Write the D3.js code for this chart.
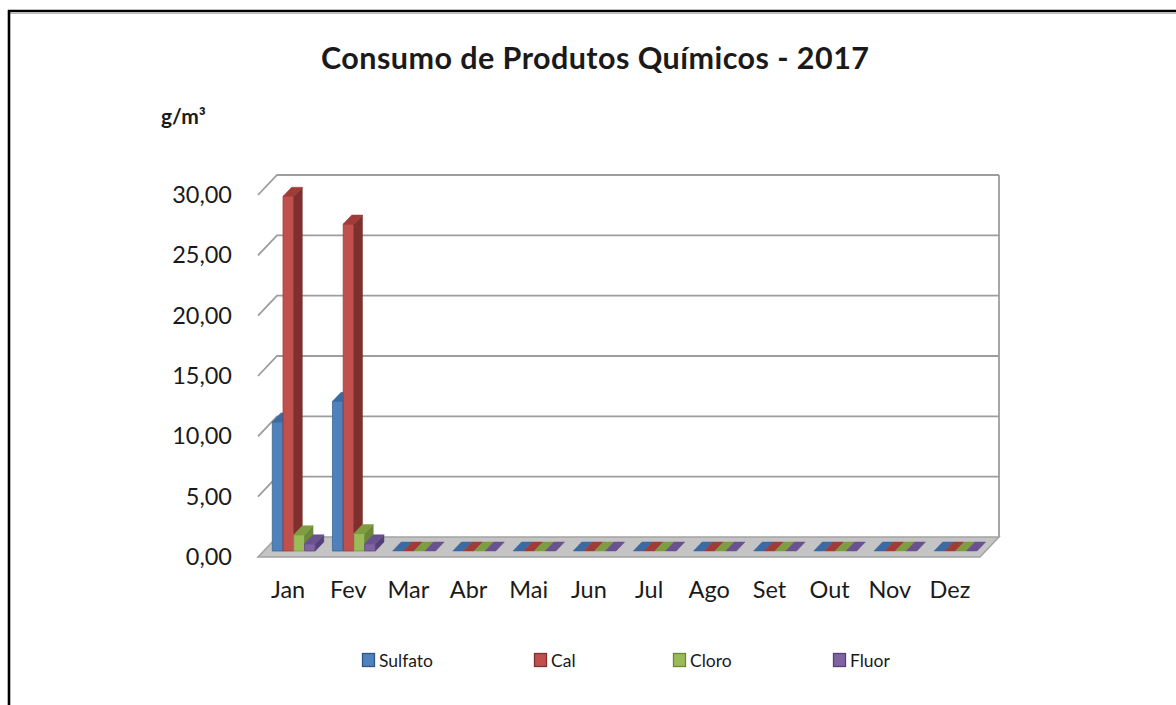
<!DOCTYPE html>
<html>
<head>
<meta charset="utf-8">
<script src="https://cdn.jsdelivr.net/npm/d3@7"></script>
<style>
  body { margin: 0; background: #fff; }
  svg text { font-family: Lato, "Open Sans", sans-serif; fill: #1a1a1a; }
</style>
</head>
<body>
<svg id="chart" width="1176" height="705"></svg>
<script>
// data
const months = ["Jan", "Fev", "Mar", "Abr", "Mai", "Jun", "Jul", "Ago", "Set", "Out", "Nov", "Dez"];
const seriesNames = ["Sulfato", "Cal", "Cloro", "Fluor"];
const sulfato = [10.7, 12.4, 0, 0, 0, 0, 0, 0, 0, 0, 0, 0];
const cal = [29.4, 27.1, 0, 0, 0, 0, 0, 0, 0, 0, 0, 0];
const cloro = [1.35, 1.45, 0, 0, 0, 0, 0, 0, 0, 0, 0, 0];
const fluor = [0.6, 0.6, 0, 0, 0, 0, 0, 0, 0, 0, 0, 0];
const yTicks = [0, 5, 10, 15, 20, 25, 30];

const values = [sulfato, cal, cloro, fluor];

// colours: front, side, top
const front = ["#4f81bd", "#c0504d", "#9bbb59", "#8064a2"];
const side = ["#2f5686", "#7d302e", "#6b8838", "#56407a"];
const topc = ["#3c6aa4", "#a03b38", "#7e9d40", "#6a5190"];
const edge = ["#3b6696", "#9c3b38", "#7e9a46", "#654d85"];

const svg = d3.select("#chart");

// outer frame
svg.append("line").attr("x1", 8).attr("y1", 11).attr("x2", 1176).attr("y2", 11)
  .attr("stroke", "#000").attr("stroke-width", 2.6);
svg.append("line").attr("x1", 8).attr("y1", 13.5).attr("x2", 1176).attr("y2", 13.5)
  .attr("stroke", "#bbb").attr("stroke-width", 1);
svg.append("line").attr("x1", 9).attr("y1", 10).attr("x2", 9).attr("y2", 705)
  .attr("stroke", "#000").attr("stroke-width", 2.6);

// 3d depth offset of the walls
const DX = 19, DY = 20;
const P = (x, y, z) => [x + z * DX, y - z * DY];
const pts = a => a.map(p => p.join(",")).join(" ");

const x = d3.scaleBand().domain(months).range([258, 980]).padding(0);
const xs = d3.scaleBand().domain(seriesNames).range([0, x.bandwidth()]).paddingInner(0).paddingOuter(0.8);
const y = d3.scaleLinear().domain([0, 30]).range([557, 195]);

const x0 = x.range()[0], x1 = x.range()[1];

// back wall gridlines and left wall ticks
const walls = svg.append("g");
yTicks.filter(v => v > 0).forEach(v => {
  const a = P(x0, y(v), 0), b = P(x0, y(v), 1), c = P(x1, y(v), 1);
  walls.append("polyline").attr("points", pts([a, b, c]))
    .attr("fill", "none").attr("stroke", "#9d9d9d").attr("stroke-width", 1.8);
});
walls.append("line")
  .attr("x1", P(x1, 0, 1)[0]).attr("x2", P(x1, 0, 1)[0])
  .attr("y1", P(x1, y(30), 1)[1]).attr("y2", P(x1, y(0), 1)[1])
  .attr("stroke", "#9d9d9d").attr("stroke-width", 1.8);

// floor
svg.append("polygon")
  .attr("points", pts([P(x0, y(0), 0), P(x1, y(0), 0), P(x1, y(0), 1), P(x0, y(0), 1)]))
  .attr("fill", "#c4c4c4").attr("stroke", "#a3a3a3").attr("stroke-width", 1.5);

// bars
const z0 = 0.3, z1 = 0.75;
const bars = svg.append("g");
months.forEach((m, i) => {
  seriesNames.forEach((s, j) => {
    const v = values[j][i];
    const bx = x(m) + xs(s), w = xs.bandwidth();
    const yt = y(v), yb = y(0);
    const g = bars.append("g");
    if (v > 0) {
      g.append("polygon")
        .attr("points", pts([P(bx, yt, z0), P(bx + w, yt, z0), P(bx + w, yb, z0), P(bx, yb, z0)]))
        .attr("fill", front[j]).attr("stroke", edge[j]).attr("stroke-width", 0.8);
      g.append("polygon")
        .attr("points", pts([P(bx + w, yt, z0), P(bx + w, yt, z1), P(bx + w, yb, z1), P(bx + w, yb, z0)]))
        .attr("fill", side[j]).attr("stroke", side[j]).attr("stroke-width", 0.5);
    }
    g.append("polygon")
      .attr("points", pts([P(bx, yt, z0), P(bx + w, yt, z0), P(bx + w, yt, z1), P(bx, yt, z1)]))
      .attr("fill", topc[j]).attr("stroke", topc[j]).attr("stroke-width", 0.5);
  });
});

// y axis labels
const fmt = d3.formatLocale({ decimal: ",", thousands: ".", grouping: [3], currency: ["R$", ""] }).format(".2f");
const yAxis = svg.append("g").attr("transform", "translate(232,0)")
  .call(d3.axisLeft(y).tickValues(yTicks).tickFormat(fmt).tickSize(0).tickPadding(0));
yAxis.select(".domain").remove();
yAxis.selectAll("text").attr("font-size", 23.5).attr("font-family", "Lato, sans-serif").attr("fill", "#1a1a1a");

// month labels
const xAxis = svg.append("g").attr("transform", "translate(0,581)")
  .call(d3.axisBottom(x).tickSize(0).tickPadding(0));
xAxis.select(".domain").remove();
xAxis.selectAll("text").attr("font-size", 23.5).attr("font-family", "Lato, sans-serif").attr("fill", "#1a1a1a");

// title and unit
svg.append("text").attr("x", 595).attr("y", 69).attr("text-anchor", "middle")
  .attr("font-size", 30.5).attr("font-weight", "bold")
  .attr("textLength", 548).attr("lengthAdjust", "spacing")
  .text("Consumo de Produtos Químicos - 2017");
svg.append("text").attr("x", 161).attr("y", 124)
  .attr("font-size", 21).attr("font-weight", "bold").text("g/m³");

// legend
const legendX = [362, 534, 673, 833];
const legend = svg.append("g");
seriesNames.forEach((s, j) => {
  legend.append("rect").attr("x", legendX[j] + 0.5).attr("y", 653.5).attr("width", 12).attr("height", 13)
    .attr("fill", front[j]).attr("stroke", side[j]).attr("stroke-width", 1.3);
  legend.append("text").attr("x", legendX[j] + 17).attr("y", 666.5)
    .attr("font-size", 17.5).text(s);
});
</script>
</body>
</html>
